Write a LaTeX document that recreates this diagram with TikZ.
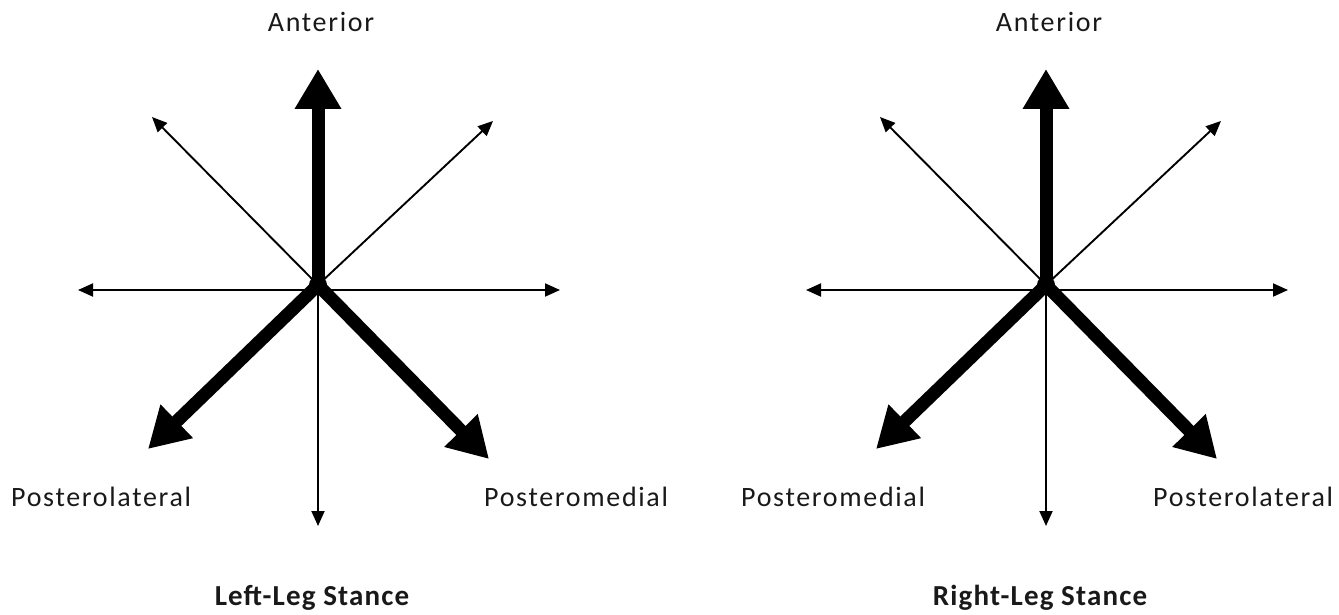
\documentclass[tikz,border=0pt]{standalone}
\usepackage{fontspec}
\setmainfont{Carlito}
\usetikzlibrary{arrows.meta}
\begin{document}
\begin{tikzpicture}[x=1pt,y=-1pt,
  thickarrow/.style={line width=13pt,-{Triangle[length=40pt,width=44pt]}},
  thinarrow/.style={line width=1.9pt,-{Triangle[length=15pt,width=13pt]}},
  lab/.style={font=\fontsize{28}{30}\selectfont\addfontfeature{LetterSpace=6}, inner sep=0pt, text=black!90},
  ttl/.style={font=\fontsize{29}{31}\selectfont\bfseries\addfontfeature{LetterSpace=4}, inner sep=0pt, text=black!90}]
\useasboundingbox (0,0) rectangle (1339,615);
\foreach \p/\cx/\la/\lax/\lb/\lbx/\tt in {
  L/318/Posterolateral/11/Posteromedial/484/Left-Leg Stance,
  R/1046/Posteromedial/741/Posterolateral/1153/Right-Leg Stance}{
  \coordinate (\p c) at (\cx,285);
  \coordinate (\p ant) at (\cx,69);
  \coordinate (\p ul) at ({\cx-166},117);
  \coordinate (\p ur) at ({\cx+175},121);
  \coordinate (\p w) at ({\cx-240},290);
  \coordinate (\p e) at ({\cx+242},290);
  \coordinate (\p s) at (\cx,526);
  \coordinate (\p bl) at ({\cx-170},449);
  \coordinate (\p br) at ({\cx+171},459);
  \coordinate (\p h) at (\cx,290);
  \draw[thinarrow] (\p c) -- (\p ul);
  \draw[thinarrow] (\p c) -- (\p ur);
  \draw[thinarrow] (\p h) -- (\p w);
  \draw[thinarrow] (\p h) -- (\p e);
  \draw[thinarrow] (\p c) -- (\p s);
  \draw[thickarrow] (\p c) -- (\p ant);
  \draw[thickarrow] (\p c) -- (\p bl);
  \draw[thickarrow] (\p c) -- (\p br);
  \fill (\p c) circle (9);
  \node[lab] (\p anttxt) at ({\cx+3},22) {Anterior};
  \node[lab, anchor=west] (\p latxt) at (\lax,497) {\la};
  \node[lab, anchor=west] (\p lbtxt) at (\lbx,497) {\lb};
  \node[ttl] (\p title) at ({\cx-6},598) {\tt};
}
\end{tikzpicture}
\end{document}
